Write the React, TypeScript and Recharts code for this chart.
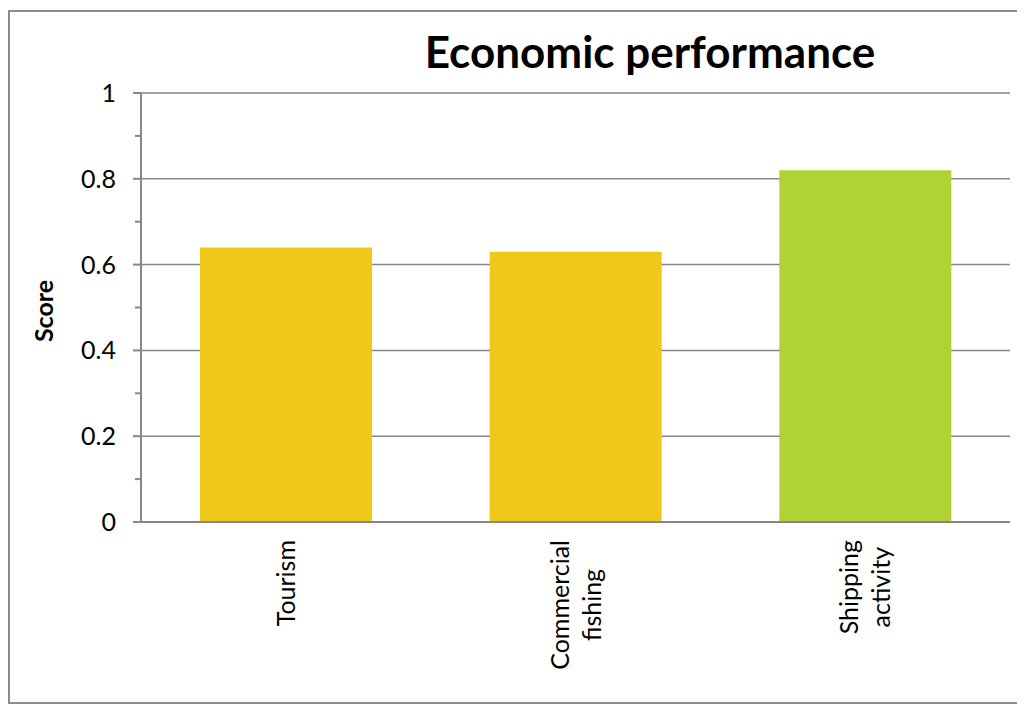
import { BarChart, Bar, XAxis, YAxis, CartesianGrid, Cell } from "recharts";

const categories = ["Tourism", "Commercial fishing", "Shipping activity"];
const scores = [0.64, 0.63, 0.82];
const majorTicks = [0, 0.2, 0.4, 0.6, 0.8, 1];
const minorTicks = [0.1, 0.3, 0.5, 0.7, 0.9];

const YELLOW = "#EFC81A";
const GREEN = "#B1D235";
const barColors = [YELLOW, YELLOW, GREEN];
const AXIS = "#878787";
const FONT = "Lato, 'Open Sans', sans-serif";
const TICK_SIZE = 25;

const data = categories.map((name, i) => ({ name, score: scores[i] }));
const allTicks = [...majorTicks, ...minorTicks].sort((a, b) => a - b);

// measure text so wrapped lines can be centred against each other
let ctx: CanvasRenderingContext2D | null = null;
function textWidth(s: string) {
  if (!ctx) ctx = document.createElement("canvas").getContext("2d");
  if (!ctx) return s.length * TICK_SIZE * 0.5;
  ctx.font = `${TICK_SIZE}px Lato`;
  return ctx.measureText(s).width;
}

const ScoreTick = ({ x, y, payload }: any) => {
  const isMajor = majorTicks.some((t) => Math.abs(t - payload.value) < 1e-6);
  return (
    <g>
      <line
        x1={x - (isMajor ? 8 : 6)}
        x2={x}
        y1={y}
        y2={y}
        stroke={AXIS}
        strokeWidth={2}
      />
      {isMajor && (
        <text
          x={x - 25}
          y={y}
          dy="0.36em"
          textAnchor="end"
          fontSize={TICK_SIZE}
          fontFamily={FONT}
          fill="#000"
        >
          {String(Number(payload.value.toFixed(1)))}
        </text>
      )}
    </g>
  );
};

const CategoryTick = ({ x, y, payload }: any) => {
  const lines: string[] = String(payload.value).split(" ");
  const maxW = Math.max(...lines.map(textWidth));
  const lineGap = 32;
  return (
    <g transform={`translate(${x},${y + 18 + maxW / 2}) rotate(-90)`}>
      {lines.map((ln, i) => (
        <text
          key={i}
          x={0}
          y={(i - (lines.length - 1) / 2) * lineGap}
          dy="0.36em"
          textAnchor="middle"
          fontSize={TICK_SIZE}
          fontFamily={FONT}
          fill="#000"
        >
          {ln}
        </text>
      ))}
    </g>
  );
};

export default function App() {
  return (
    <div
      style={{
        position: "relative",
        width: 1007,
        height: 690,
        marginTop: 2,
        border: "2px solid #8c8c8c",
        background: "#fff",
      }}
    >
      <BarChart
        width={1007}
        height={690}
        data={data}
        margin={{ top: 81, right: 7, left: 71, bottom: 30 }}
      >
        <CartesianGrid
          vertical={false}
          stroke={AXIS}
          strokeWidth={1.5}
          horizontalCoordinatesGenerator={({ yAxis, offset }: any) =>
            majorTicks.map((v) =>
              yAxis && typeof yAxis.scale === "function"
                ? yAxis.scale(v)
                : offset.top + offset.height * (1 - v)
            )
          }
        />
        <XAxis
          dataKey="name"
          interval={0}
          height={150}
          tickSize={0}
          tickMargin={0}
          tickLine={false}
          axisLine={{ stroke: AXIS, strokeWidth: 2 }}
          tick={<CategoryTick />}
        />
        <YAxis
          width={60}
          domain={[0, 1]}
          ticks={allTicks}
          interval={0}
          tickSize={0}
          tickMargin={0}
          tickLine={false}
          axisLine={{ stroke: AXIS, strokeWidth: 2 }}
          tick={<ScoreTick />}
        />
        <Bar dataKey="score" barSize={172} isAnimationActive={false}>
          {data.map((d, i) => (
            <Cell key={d.name} fill={barColors[i]} />
          ))}
        </Bar>
      </BarChart>
      <svg
        width={1007}
        height={690}
        style={{ position: "absolute", left: 0, top: 0, pointerEvents: "none" }}
      >
        <text
          x={640}
          y={56}
          textAnchor="middle"
          fontSize={44}
          fontWeight={700}
          fontFamily={FONT}
          fill="#000"
        >
          Economic performance
        </text>
        <text
          transform="translate(43,299) rotate(-90)"
          textAnchor="middle"
          fontSize={25}
          fontWeight={700}
          fontFamily={FONT}
          fill="#000"
        >
          Score
        </text>
      </svg>
    </div>
  );
}
